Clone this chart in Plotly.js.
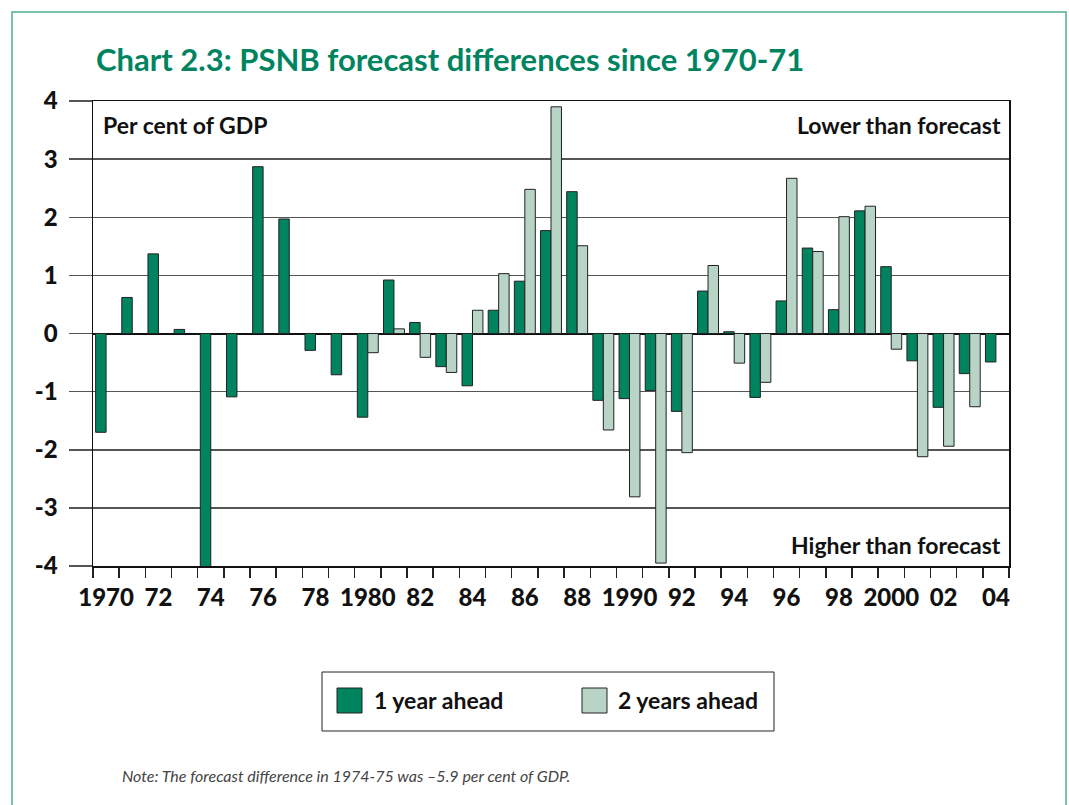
<!DOCTYPE html>
<html>
<head>
<meta charset="utf-8">
<script src="https://cdn.plot.ly/plotly-3.0.1.min.js"></script>
<style>html,body{margin:0;padding:0;background:#fff;}</style>
</head>
<body>
<div id="chart" style="width:1069px;height:805px;"></div>
<script>
const years = [1970,1971,1972,1973,1974,1975,1976,1977,1978,1979,1980,1981,1982,1983,1984,1985,1986,1987,1988,1989,1990,1991,1992,1993,1994,1995,1996,1997,1998,1999,2000,2001,2002,2003,2004];
const oneYearAhead = [-1.70,0.62,1.37,0.07,-5.9,-1.09,2.87,1.97,-0.29,-0.71,-1.44,0.92,0.19,-0.57,-0.90,0.40,0.90,1.77,2.44,-1.15,-1.12,-0.98,-1.34,0.73,0.03,-1.10,0.56,1.47,0.41,2.11,1.15,-0.47,-1.27,-0.69,-0.49];
const twoYearsAhead = [null,null,null,null,null,null,null,null,null,null,-0.33,0.08,-0.41,-0.67,0.40,1.03,2.48,3.90,1.51,-1.66,-2.81,-3.95,-2.05,1.17,-0.51,-0.84,2.67,1.41,2.01,2.19,-0.27,-2.12,-1.94,-1.26,null];
const tickYears = [1970,1972,1974,1976,1978,1980,1982,1984,1986,1988,1990,1992,1994,1996,1998,2000,2002,2004];
const tickLabels = ["1970","72","74","76","78","1980","82","84","86","88","1990","92","94","96","98","2000","02","04"];
const seriesNames = ["1 year ahead","2 years ahead"];
const yTicks = [-4,-3,-2,-1,0,1,2,3,4];
const yTickLabels = ["-4","-3","-2","-1","0","1","2","3","4"];

const DARK = '#00835f';
const LIGHT = '#b7d4c6';
const FONT = 'Lato, "Open Sans", sans-serif';

const traces = [
  {type:'bar', x:years, y:oneYearAhead, name:seriesNames[0], marker:{color:DARK, line:{color:'#222', width:1}}, hoverinfo:'x+y'},
  {type:'bar', x:years, y:twoYearsAhead, name:seriesNames[1], marker:{color:LIGHT, line:{color:'#222', width:1}}, hoverinfo:'x+y'}
];

// pixel -> paper helpers (plot area: x 93..1009, y 101..566)
const L=93, R=1009, T=101, B=566;
const px = v => (v-L)/(R-L);
const py = v => (B-v)/(B-T);

const shapes = [
  {type:'rect', xref:'paper', yref:'paper', x0:px(12), x1:px(1066), y0:py(830), y1:py(12), line:{color:'#4fae8b', width:1.5}, fillcolor:'rgba(0,0,0,0)', layer:'below'},
  {type:'rect', xref:'paper', yref:'paper', x0:px(322), x1:px(774), y0:py(731), y1:py(672), line:{color:'#222', width:1}, fillcolor:'rgba(0,0,0,0)'},
  {type:'rect', xref:'paper', yref:'paper', x0:px(337), x1:px(362), y0:py(713), y1:py(688), line:{color:'#222', width:1}, fillcolor:DARK},
  {type:'rect', xref:'paper', yref:'paper', x0:px(582), x1:px(607), y0:py(713), y1:py(688), line:{color:'#222', width:1}, fillcolor:LIGHT}
];

const bold = {family:FONT, size:23, color:'#111', weight:700};
const annotations = [
  {xref:'paper', yref:'paper', x:px(101), y:py(125), xanchor:'left', yanchor:'middle', text:'Per cent of GDP', showarrow:false, font:bold},
  {xref:'paper', yref:'paper', x:px(1003), y:py(125), xanchor:'right', yanchor:'middle', text:'Lower than forecast', showarrow:false, font:bold},
  {xref:'paper', yref:'paper', x:px(1003), y:py(545), xanchor:'right', yanchor:'middle', text:'Higher than forecast', showarrow:false, font:bold},
  {xref:'paper', yref:'paper', x:px(372), y:py(700), xanchor:'left', yanchor:'middle', text:seriesNames[0], showarrow:false, font:{family:FONT, size:23, color:'#111', weight:700}},
  {xref:'paper', yref:'paper', x:px(616), y:py(700), xanchor:'left', yanchor:'middle', text:seriesNames[1], showarrow:false, font:{family:FONT, size:23, color:'#111', weight:700}},
  {xref:'paper', yref:'paper', x:px(120), y:py(775), xanchor:'left', yanchor:'middle', text:'Note: The forecast difference in 1974-75 was \u20135.9 per cent of GDP.', showarrow:false, font:{family:FONT, size:16, color:'#444', style:'italic'}}
];

const layout = {
  width:1069, height:805,
  margin:{l:L, r:1069-R, t:T, b:805-B, pad:0},
  paper_bgcolor:'#fff', plot_bgcolor:'#fff',
  title:{text:'Chart 2.3: PSNB forecast differences since 1970-71', x:96/1069, xref:'container', xanchor:'left', y:1-60/805, yref:'container', yanchor:'middle', font:{family:FONT, size:31, color:'#00845f', weight:700}},
  barmode:'group', bargap:0.2, bargroupgap:0,
  showlegend:false,
  xaxis:{
    type:'linear', range:[1969.5, 2004.5], tickvals:tickYears, ticktext:tickLabels,
    ticks:'outside', ticklen:10, tickcolor:'rgba(0,0,0,0)',
    minor:{tick0:1969.5, dtick:1, ticks:'outside', ticklen:10, tickwidth:1.5, tickcolor:'#222', showgrid:false},
    showgrid:false, zeroline:false, showline:true, linecolor:'#111', linewidth:1.5, mirror:true,
    tickfont:{family:FONT, size:24, color:'#111', weight:900}, fixedrange:true
  },
  yaxis:{
    range:[-4,4], tickvals:yTicks, ticktext:yTickLabels,
    ticks:'outside', ticklen:23, tickcolor:'#555', tickwidth:1.5, ticklabelstandoff:6,
    showgrid:true, gridcolor:'#555', gridwidth:1.5,
    zeroline:true, zerolinecolor:'#111', zerolinewidth:2,
    showline:true, linecolor:'#111', linewidth:1.5, mirror:true,
    tickfont:{family:FONT, size:24, color:'#111', weight:900}, fixedrange:true
  },
  shapes:shapes, annotations:annotations
};

Plotly.newPlot('chart', traces, layout, {displayModeBar:false, staticPlot:true});
</script>
</body>
</html>
